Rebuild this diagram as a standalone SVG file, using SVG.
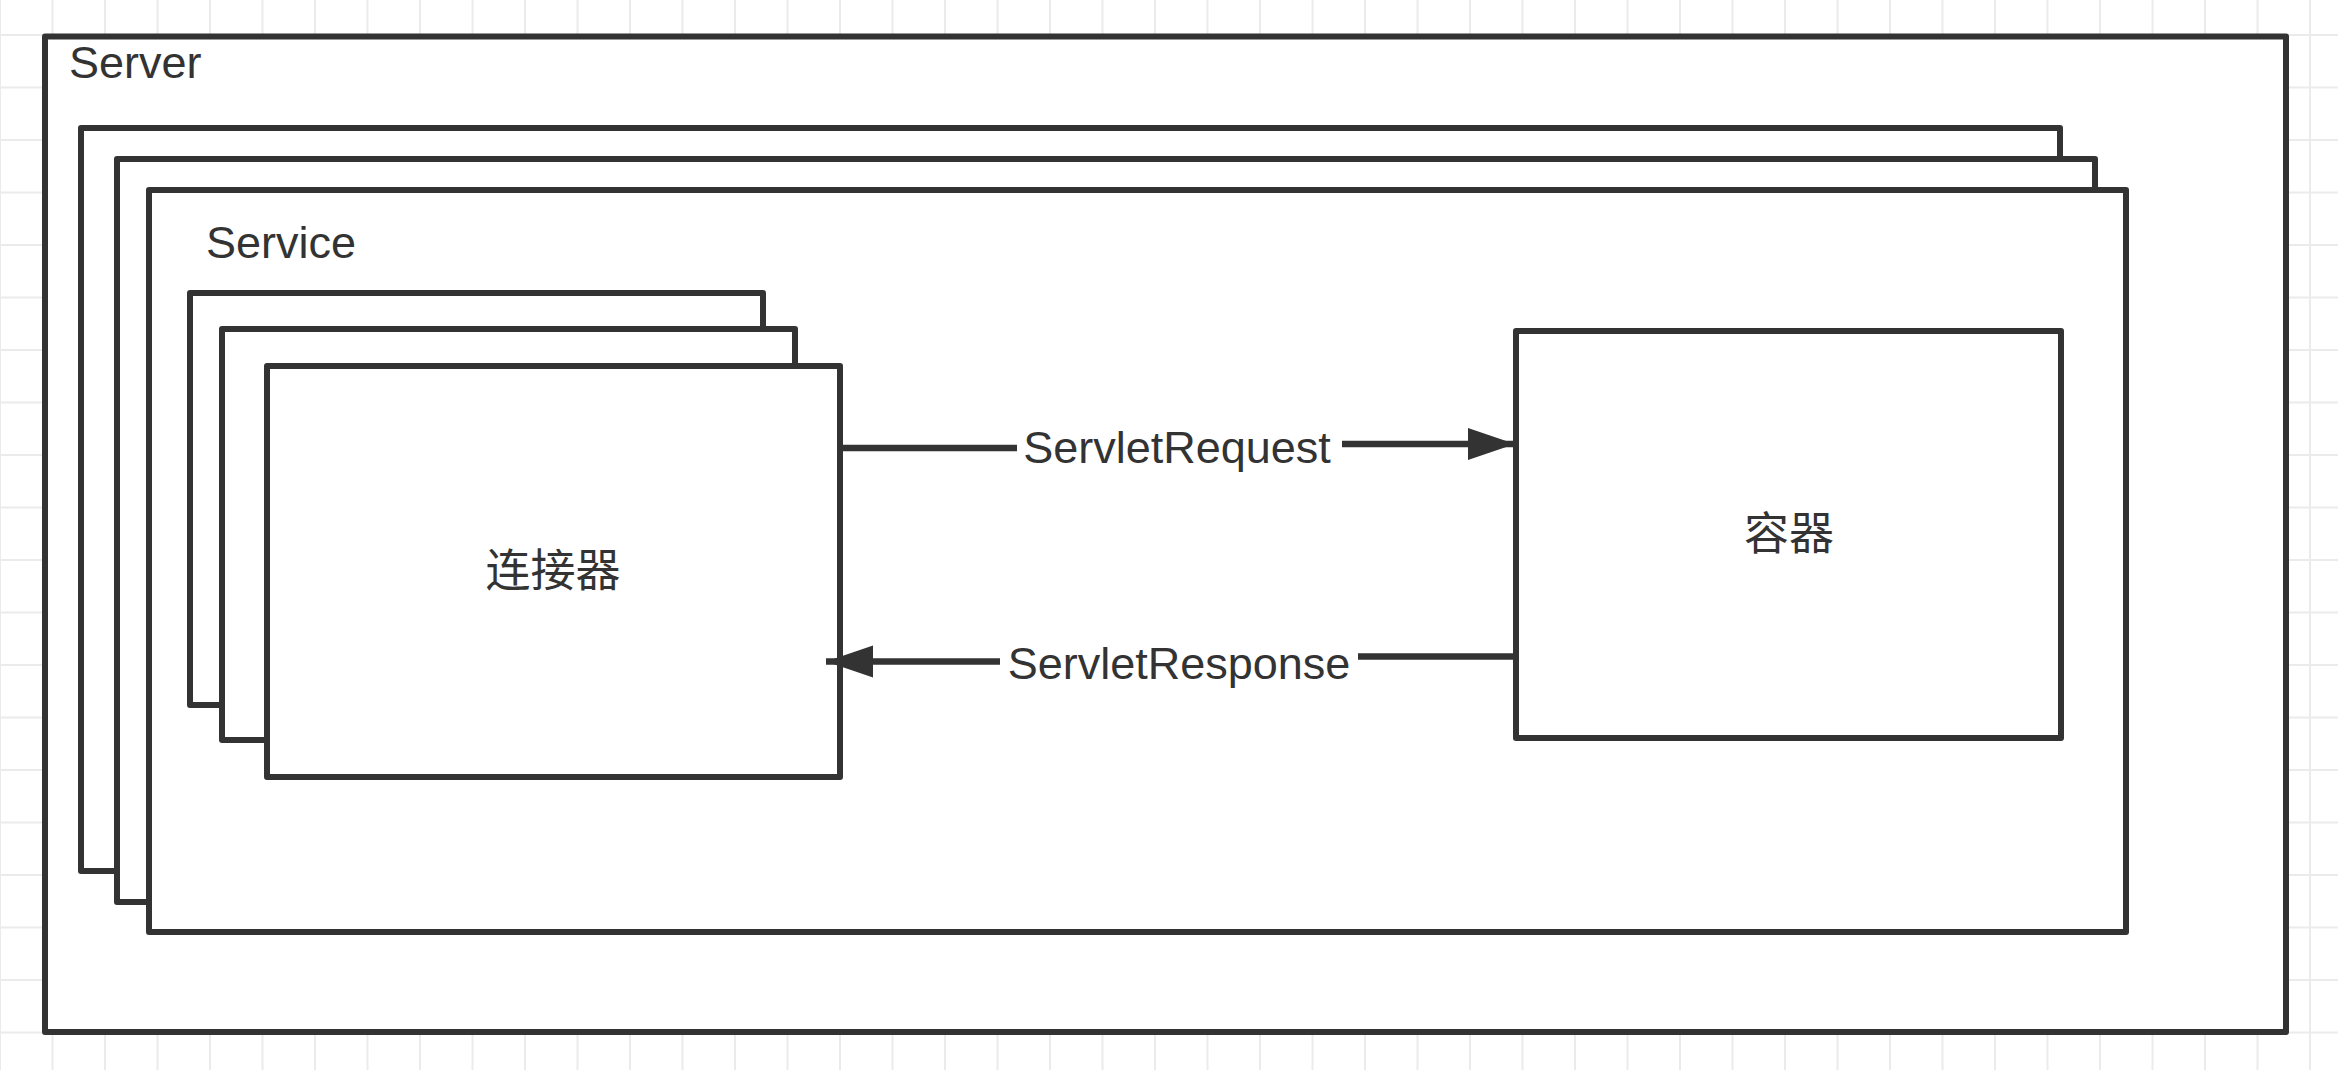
<svg xmlns="http://www.w3.org/2000/svg" width="2338" height="1070" viewBox="0 0 2338 1070">
  <defs>
    <pattern id="grid" patternUnits="userSpaceOnUse" x="-1" y="34" width="52.5" height="52.5">
      <rect x="0" y="0" width="2" height="52.5" fill="#ebebeb"/>
      <rect x="0" y="0" width="52.5" height="2" fill="#ebebeb"/>
    </pattern>
    <marker id="arrow" markerUnits="userSpaceOnUse" markerWidth="50" markerHeight="36" refX="47" refY="16" orient="auto">
      <path d="M0,0 L47,16 L0,32 Z" fill="#333333"/>
    </marker>
  </defs>
  <style>
    .box { fill: #ffffff; stroke: #333333; stroke-width: 6; stroke-linejoin: round; }
    .edge { fill: none; stroke: #333333; stroke-width: 6.5; }
    .lbl { font-family: "Liberation Sans", Arial, sans-serif; font-size: 45px; fill: #333333; }
    .cjk { font-family: "Liberation Sans", "Noto Sans CJK SC", sans-serif; font-size: 45px; fill: #333333; }
  </style>

  <!-- canvas grid -->
  <rect x="0" y="0" width="2338" height="1070" fill="#ffffff"/>
  <rect x="0" y="0" width="2338" height="1070" fill="url(#grid)"/>

  <g id="server">
    <rect class="box" x="45" y="36.5" width="2241" height="995.5"/>
    <text class="lbl" x="69" y="78">Server</text>
  </g>

  <g id="service">
    <rect class="box" x="81" y="128" width="1979" height="743"/>
    <rect class="box" x="117" y="159" width="1978" height="743"/>
    <rect class="box" x="149" y="190" width="1977" height="742"/>
    <text class="lbl" x="206" y="258">Service</text>
  </g>

  <g id="connector">
    <rect class="box" x="190" y="293" width="573" height="412"/>
    <rect class="box" x="222" y="329" width="573" height="411"/>
    <rect class="box" x="267" y="366" width="573" height="411"/>
    <text class="cjk" x="553" y="571" text-anchor="middle" dominant-baseline="central">连接器</text>
  </g>

  <g id="container">
    <rect class="box" x="1516" y="331" width="545" height="407"/>
    <text class="cjk" x="1789" y="534" text-anchor="middle" dominant-baseline="central">容器</text>
  </g>

  <g id="connectors">
    <!-- ServletRequest: connector -> container -->
    <path class="edge" d="M839,448 H1017"/>
    <path class="edge" d="M1342,444 H1515" marker-end="url(#arrow)"/>
    <text class="lbl" x="1177" y="463" text-anchor="middle">ServletRequest</text>
    <!-- ServletResponse: container -> connector -->
    <path class="edge" d="M1516,656.5 H1358"/>
    <path class="edge" d="M1000,661.5 H826" marker-end="url(#arrow)"/>
    <text class="lbl" x="1179" y="679" text-anchor="middle">ServletResponse</text>
  </g>
</svg>
